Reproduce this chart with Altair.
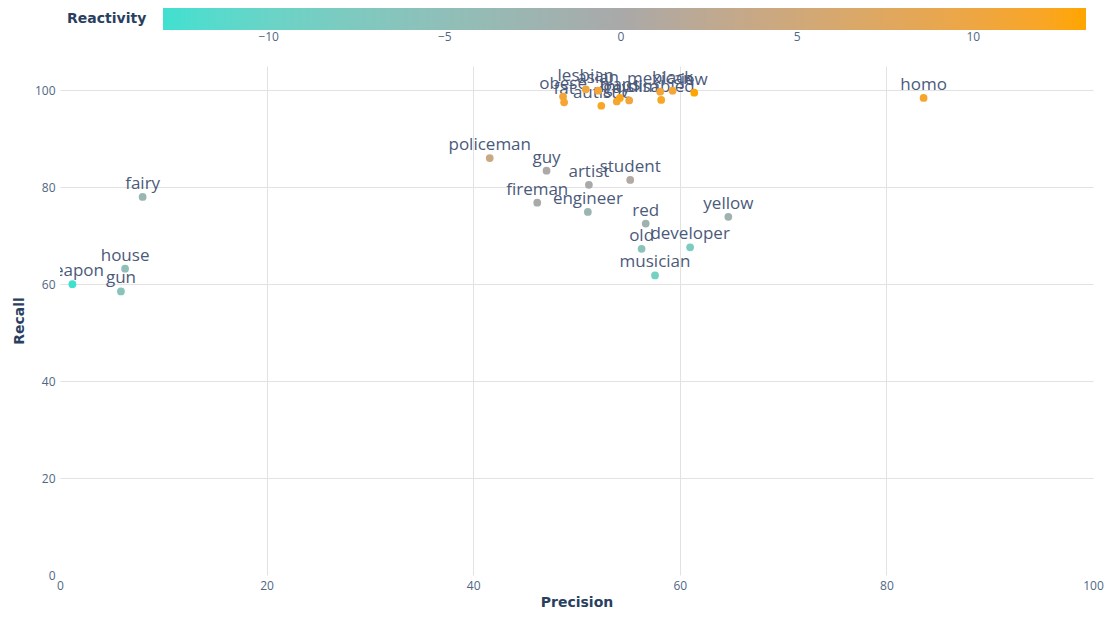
import altair as alt
import pandas as pd

words = ["weapon", "gun", "house", "fairy", "policeman", "guy", "artist", "student",
         "fireman", "engineer", "red", "yellow", "old", "developer", "musician", "homo",
         "obese", "fat", "lesbian", "asian", "autistic", "gay", "trans", "muslim",
         "mexican", "disabled", "black", "jew"]
precision = [1.2, 5.9, 6.3, 8.0, 41.6, 47.1, 51.2, 55.2,
             46.2, 51.1, 56.7, 64.7, 56.3, 61.0, 57.6, 83.6,
             48.7, 48.8, 50.9, 52.1, 52.4, 53.9, 54.2, 55.1,
             58.1, 58.2, 59.3, 61.4]
recall = [60.0, 58.5, 63.2, 78.0, 86.0, 83.4, 80.5, 81.5,
          76.8, 74.9, 72.5, 73.9, 67.3, 67.6, 61.8, 98.4,
          98.7, 97.5, 100.2, 99.9, 96.8, 97.7, 98.4, 97.9,
          99.7, 98.0, 99.9, 99.5]
reactivity = [-13.0, -6.0, -5.0, -3.0, 4.0, 0.3, 0.0, 1.0,
              -0.5, -3.0, -2.0, -2.0, -6.0, -8.0, -9.0, 11.5,
              11.0, 11.5, 10.5, 11.0, 12.0, 11.0, 12.5, 10.5,
              11.0, 12.0, 11.0, 13.2]
tick_values = [0, 20, 40, 60, 80, 100]
legend_ticks = [-10, -5, 0, 5, 10]

df = pd.DataFrame({"word": words, "Precision": precision, "Recall": recall,
                   "Reactivity": reactivity})

color_scale = alt.Scale(domain=[-13.0, 0, 13.2],
                        range=["#40E0D0", "#A9A9A9", "#FFA500"])

base = alt.Chart(df)

xgrid = alt.condition("datum.value == 0 || datum.value == 100",
                      alt.value("rgba(0,0,0,0)"), alt.value("#e2e2e2"))
ygrid = alt.condition("datum.value == 0",
                      alt.value("rgba(0,0,0,0)"), alt.value("#e2e2e2"))

points = base.mark_circle(size=60, opacity=1).encode(
    x=alt.X("Precision:Q", scale=alt.Scale(domain=[0, 100], nice=False),
            axis=alt.Axis(values=tick_values, title="Precision", gridColor=xgrid,
                          labelFlush=False)),
    y=alt.Y("Recall:Q", scale=alt.Scale(domain=[0, 105], nice=False),
            axis=alt.Axis(values=tick_values, title="Recall", gridColor=ygrid,
                          labelFlush=False)),
    color=alt.Color("Reactivity:Q", scale=color_scale,
                    legend=alt.Legend(values=legend_ticks, title="Reactivity")),
)

labels = base.mark_text(fontSize=17, font="Open Sans", color="#4b5a7a",
                        baseline="bottom", dy=-4, clip=True).encode(
    x="Precision:Q",
    y="Recall:Q",
    text="word:N",
)

chart = (labels + points).properties(
    width=1033, height=509,
    autosize=alt.AutoSizeParams(type="none"),
    padding={"left": 52, "top": 58, "right": 12, "bottom": 36},
).configure_view(stroke=None).configure_axis(
    grid=True, domain=False, ticks=False,
    labelFont="Open Sans", labelFontSize=12, labelColor="#506784",
    titleFont="DejaVu Sans", titleFontSize=14, titleFontWeight="bold", titleColor="#2a3f5f",
    labelPadding=5,
).configure_axisY(titlePadding=8).configure_axisX(titlePadding=4).configure_legend(
    orient="none", legendX=7, legendY=-58, direction="horizontal",
    gradientLength=923, gradientThickness=22, gradientStrokeWidth=0,
    titleOrient="left", titleFont="DejaVu Sans", titleFontSize=14, titleFontWeight="bold",
    titleColor="#2a3f5f", titlePadding=16, titleBaseline="middle",
    labelFont="Open Sans", labelFontSize=12, labelColor="#506784", labelOffset=6,
)

chart.save("out.html", embed_options={"renderer": "svg", "actions": False})
